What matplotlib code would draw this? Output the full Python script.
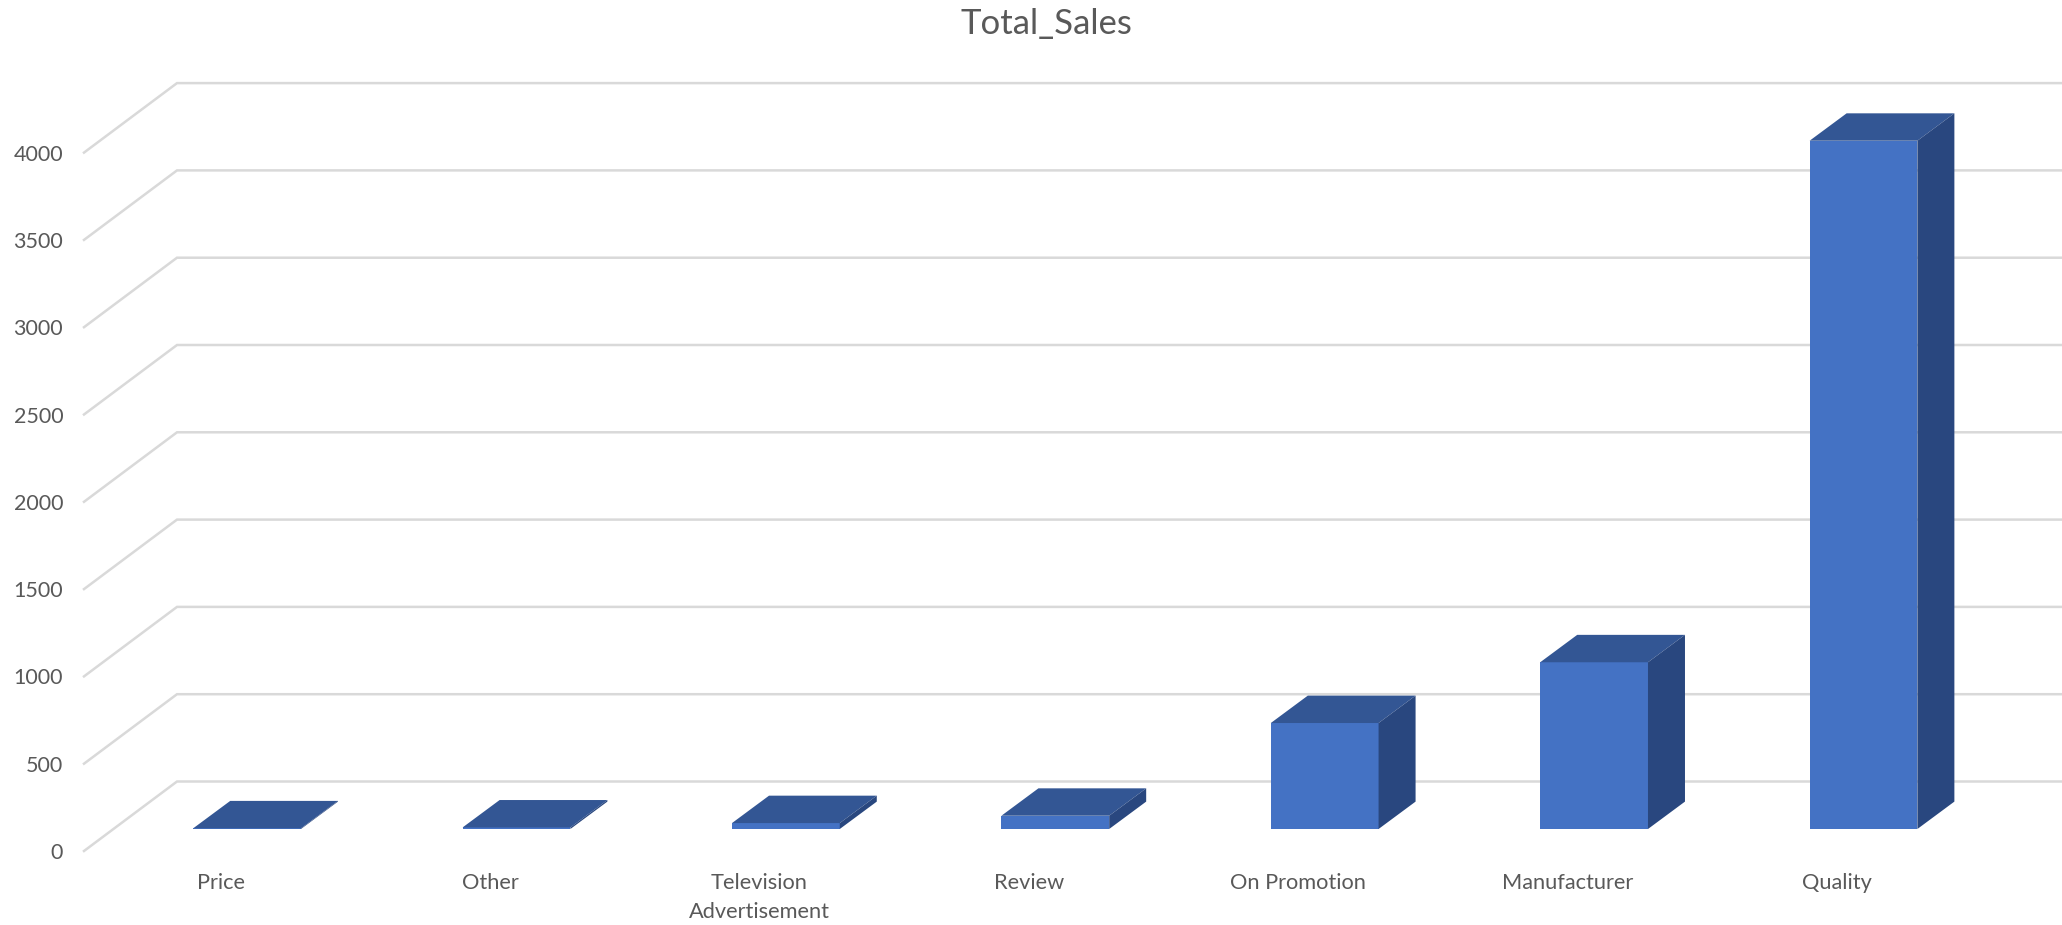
import matplotlib
matplotlib.use('Agg')
import matplotlib.pyplot as plt
from matplotlib.patches import Polygon

categories = ['Price', 'Other', 'Television\nAdvertisement', 'Review', 'On Promotion', 'Manufacturer', 'Quality']
total_sales = [4, 9, 34, 76, 607, 955, 3942]
y_ticks = [0, 500, 1000, 1500, 2000, 2500, 3000, 3500, 4000]

FRONT = '#4472C4'
TOP = '#335694'
SIDE = '#29477F'
GRID = '#D9D9D9'
TEXT = '#595959'

W, H = 2062, 925
# pixel sizes of one category and one sales unit
PX_CAT = 269.4
PX_VAL = 0.1746
FIRST_CAT_PX = 220.7
FLOOR_PX = 851
LEFT_PX = 84

plt.rcParams['font.family'] = ['Lato', 'DejaVu Sans']

fig = plt.figure(figsize=(W / 100, H / 100), dpi=100, facecolor='white')
ax = fig.add_axes([LEFT_PX / W, (H - FLOOR_PX) / H, 1 - LEFT_PX / W, FLOOR_PX / H])
ax.set_xlim((LEFT_PX - FIRST_CAT_PX) / PX_CAT, (W - FIRST_CAT_PX) / PX_CAT)
ax.set_ylim(0, FLOOR_PX / PX_VAL)
for s in ax.spines.values():
    s.set_visible(False)


def dx(px):
    return px / PX_CAT


def dy(px):
    return px / PX_VAL


# floor and back wall: slanted part then the long horizontal gridline
x_front = ax.get_xlim()[0]
x_end = ax.get_xlim()[1]
for v in y_ticks:
    ax.plot([x_front, x_front + dx(93), x_end], [v, v + dy(69.5), v + dy(69.5)],
            color=GRID, lw=1.8, solid_joinstyle='miter', clip_on=False, zorder=1)

# 3d columns
bar_w = 0.4
shift_x = dx(26.4)
base = dy(22)
depth_x = dx(37)
depth_y = dy(27.4)
xs = [i + shift_x for i in range(len(categories))]
ax.bar(xs, total_sales, width=bar_w, bottom=base, color=FRONT, zorder=3)
for x, val in zip(xs, total_sales):
    l = x - bar_w / 2
    r = x + bar_w / 2
    t = base + val
    ax.add_patch(Polygon([(l, t), (r, t), (r + depth_x, t + depth_y), (l + depth_x, t + depth_y)],
                         closed=True, facecolor=TOP, edgecolor='none', zorder=4))
    ax.add_patch(Polygon([(r, base), (r + depth_x, base + depth_y), (r + depth_x, t + depth_y), (r, t)],
                         closed=True, facecolor=SIDE, edgecolor='none', zorder=4))

ax.set_xticks(range(len(categories)))
ax.set_xticklabels(categories, linespacing=1.55)
ax.set_yticks(y_ticks)
ax.tick_params(axis='x', length=0, pad=16, labelsize=15.7, labelcolor=TEXT)
ax.tick_params(axis='y', length=0, pad=15, labelsize=15.5, labelcolor=TEXT)

fig.text(1046 / W, 1 - 24 / H, 'Total_Sales', ha='center', va='center', fontsize=25, color=TEXT)

fig.savefig('out.png', dpi=100)
